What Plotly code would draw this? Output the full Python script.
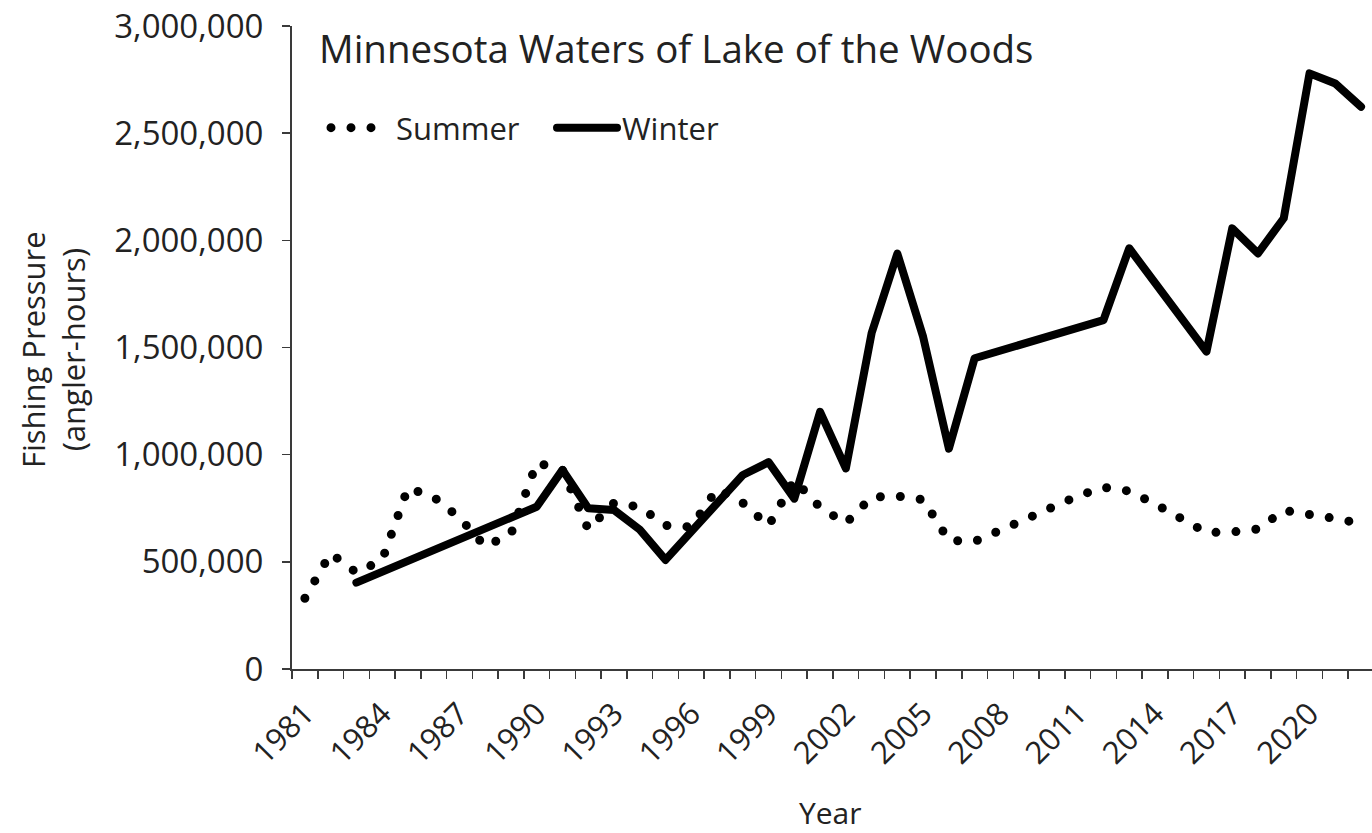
import plotly.graph_objects as go

years = list(range(1981, 2023))

summer = [330000, 540000, 450000, 508000, 845000, 802000, 706000, 572000, 630000, 962000,
          929000, 652000, 775000, 756000, 670000, 663000, 840000, 775000, 668000, 882000,
          754000, 680000, 802000, 807000, 790000, 600000, 595000, 644000, 700000, 754000,
          807000, 848000, 830000, 770000, 698000, 637000, 639000, 653000, 740000, 726000,
          702000, 679000]

winter = [None, None, 403000, None, None, None, None, None, None, 757000,
          929000, 750000, 742000, 650000, 509000, 640000, 780000, 905000, 965000, 795000,
          1200000, 936000, 1567000, 1938000, 1550000, 1028000, 1450000, None, None, None,
          None, 1628000, 1963000, None, None, 1481000, 2056000, 1939000, 2103000, 2779000,
          2732000, 2623000]

label_years = list(range(1981, 2021, 3))
y_ticks = [0, 500000, 1000000, 1500000, 2000000, 2500000, 3000000]

FONT = "Open Sans"
TXT = "#222222"
AX = "#3a3a3a"

# body margin is removed in post_script, so figure pixels = screen pixels
W, H = 1372, 833
L = 292
T = 26
BOT = 669
B = H - BOT
plot_w = W - L
plot_h = BOT - T
spacing = 25.76


def px(x):
    return (x - L) / plot_w


def py(y):
    return (BOT - y) / plot_h


fig = go.Figure()
fig.add_trace(go.Scatter(
    x=years, y=summer, name="Summer", mode="lines",
    line=dict(color="black", width=9, dash="0px,20px"),
    connectgaps=True, hoverinfo="skip"))
fig.add_trace(go.Scatter(
    x=years, y=winter, name="Winter", mode="lines",
    line=dict(color="black", width=8),
    connectgaps=True, hoverinfo="skip"))

fig.update_layout(
    width=W, height=H,
    margin=dict(l=L, r=0, t=T, b=B, pad=0, autoexpand=False),
    paper_bgcolor="white", plot_bgcolor="white",
    font=dict(family=FONT, color=TXT),
    showlegend=True,
    legend=dict(
        orientation="h", x=px(326), xanchor="left",
        y=py(128), yanchor="middle",
        font=dict(size=31, family=FONT, color=TXT),
        itemwidth=60, entrywidthmode="pixels", entrywidth=151,
        bgcolor="rgba(0,0,0,0)", traceorder="normal",
    ),
    xaxis=dict(
        range=[1980.5, 1980.5 + plot_w / spacing],
        tickvals=label_years, ticktext=[str(y) for y in label_years],
        tickangle=-45, ticks="", showgrid=False, zeroline=False,
        showline=True, linecolor=AX, linewidth=2, automargin=False,
        tickfont=dict(size=31, family=FONT, color=TXT),
        ticklabelstandoff=12, ticklabeloverflow="allow",
        minor=dict(ticks="outside", tick0=1980.5, dtick=1, ticklen=8,
                   tickwidth=1.5, tickcolor=AX, showgrid=False),
    ),
    yaxis=dict(
        range=[0, 3000000], tickvals=y_ticks, tickformat=",",
        ticks="outside", ticklen=8, tickwidth=1.5, tickcolor=AX,
        showline=True, linecolor=AX, linewidth=2, automargin=False,
        showgrid=False, zeroline=False,
        tickfont=dict(size=33, family=FONT, color=TXT),
        ticklabelstandoff=12, ticklabeloverflow="allow",
    ),
    annotations=[
        dict(text="Minnesota Waters of Lake of the Woods", xref="paper", yref="paper",
             x=px(317), y=py(48), xanchor="left", yanchor="middle",
             showarrow=False, font=dict(size=38.5, family=FONT, color=TXT)),
        dict(text="Fishing Pressure<br>(angler-hours)", xref="paper", yref="paper",
             x=px(53), y=py(350), xanchor="center", yanchor="middle",
             textangle=-90, showarrow=False, font=dict(size=31, family=FONT, color=TXT)),
        dict(text="Year", xref="paper", yref="paper",
             x=px(830), y=py(812), xanchor="center", yanchor="middle",
             showarrow=False, font=dict(size=30, family=FONT, color=TXT)),
    ],
)

post = ("document.body.style.margin='0';document.body.style.padding='0';"
        "var gd=document.getElementById('{plot_id}');"
        "gd.querySelectorAll('path.js-line').forEach(function(p){p.style.strokeLinecap='round';p.style.strokeLinejoin='round';});")

fig.write_html("out.html", post_script=post,
               config={"displayModeBar": False, "staticPlot": True})
